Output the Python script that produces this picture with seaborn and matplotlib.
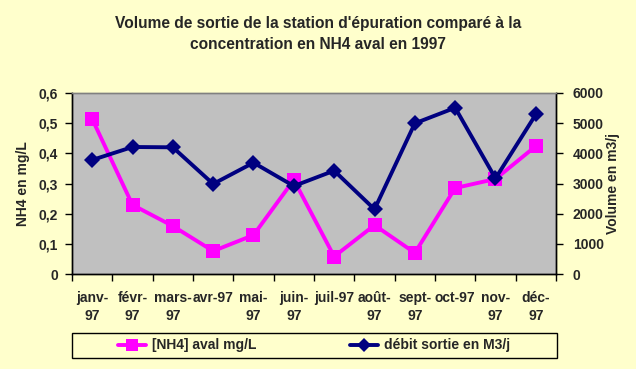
import matplotlib
matplotlib.use("Agg")
import matplotlib.pyplot as plt
import seaborn as sns
import pandas as pd
from matplotlib.lines import Line2D
from matplotlib.patches import Rectangle
from matplotlib.ticker import FixedLocator

months = ["janv-\n97", "févr-\n97", "mars-\n97", "avr-97", "mai-\n97", "juin-\n97",
          "juil-97", "août-\n97", "sept-\n97", "oct-97", "nov-\n97", "déc-\n97"]
nh4 = [0.514, 0.229, 0.159, 0.076, 0.129, 0.312, 0.058, 0.162, 0.070, 0.285, 0.315, 0.424]
debit = [3780, 4210, 4200, 2985, 3690, 2915, 3425, 2145, 4995, 5510, 3170, 5290]

sns.set_style("white")
plt.rcParams['font.family'] = ['Liberation Sans', 'DejaVu Sans']
plt.rcParams['font.weight'] = 'bold'

bg = "#FFFFCC"
fs = 10
fig = plt.figure(figsize=(6.36, 3.69), dpi=100, facecolor=bg)
ax = fig.add_axes([72/636, 1-274/369, (556-72)/636, (274-93)/369])
ax.set_facecolor("#C0C0C0")
ax2 = ax.twinx()

df = pd.DataFrame({"x": range(12), "nh4": nh4, "debit": debit})
sns.lineplot(data=df, x="x", y="nh4", ax=ax, color="#FF00FF", lw=2.8,
             marker="s", markersize=10, markeredgewidth=0, legend=False)
sns.lineplot(data=df, x="x", y="debit", ax=ax2, color="#000080", lw=2.8,
             marker="D", markersize=8, markeredgewidth=0, legend=False)

ax.set_xlim(-0.5, 11.5)
ax.set_ylim(0, 0.6)
ax2.set_ylim(0, 6000)

ax.xaxis.set_major_locator(FixedLocator([i - 0.5 for i in range(13)]))
ax.xaxis.set_minor_locator(FixedLocator(list(range(12))))
ax.set_xticklabels([""] * 13)
ax.set_xticklabels(months, minor=True, fontsize=fs, fontweight="bold", linespacing=1.35)
ax.tick_params(axis="x", which="major", length=5, width=1, color="black", direction="out", bottom=True)
ax.tick_params(axis="x", which="minor", length=0, pad=12)

yt = [0, 0.1, 0.2, 0.3, 0.4, 0.5, 0.6]
ax.set_yticks(yt)
ax.set_yticklabels([("%g" % v).replace(".", ",") for v in yt], fontsize=fs, fontweight="bold")
ax.tick_params(axis="y", length=5, width=1, color="black", direction="out", left=True, pad=5)
yt2 = [0, 1000, 2000, 3000, 4000, 5000, 6000]
ax2.set_yticks(yt2)
ax2.set_yticklabels([str(v) for v in yt2], fontsize=fs, fontweight="bold")
ax2.tick_params(axis="y", length=5, width=1, color="black", direction="out", right=True, pad=7)

ax.set_xlabel("")
ax.set_ylabel("NH4 en mg/L", fontsize=fs, fontweight="bold", labelpad=6)
ax2.set_ylabel("Volume en m3/j", fontsize=fs, fontweight="bold", labelpad=2)

for a in (ax, ax2):
    for s in a.spines.values():
        s.set_visible(True)
        s.set_linewidth(1)
    a.spines["top"].set_color("#808080")
    a.spines["left"].set_color("black")
    a.spines["bottom"].set_color("black")
    a.spines["right"].set_color("black")

fig.text(0.5, 1 - 34/369, "Volume de sortie de la station d'épuration comparé à la\nconcentration en NH4 aval en 1997",
         ha="center", va="center", fontsize=11.2, fontweight="bold", linespacing=1.55)

# legend frame
fig.patches.append(Rectangle((72/636, 1-358/369), (557-72)/636, 25/369, transform=fig.transFigure,
                             facecolor=bg, edgecolor="black", linewidth=1, zorder=0))
handles = [Line2D([], [], color="#FF00FF", lw=2.8, marker="s", markersize=8, markeredgewidth=0),
           Line2D([], [], color="#000080", lw=2.8, marker="D", markersize=7, markeredgewidth=0)]
leg = fig.legend(handles, ["[NH4] aval mg/L", "débit sortie en M3/j"], ncol=2,
                 loc="center", bbox_to_anchor=(314/636, 1-345.5/369),
                 frameon=False, prop={"size": fs, "weight": "bold"},
                 handlelength=2.0, handletextpad=0.4, columnspacing=6.8)

fig.savefig("out.png", dpi=100, facecolor=bg)
